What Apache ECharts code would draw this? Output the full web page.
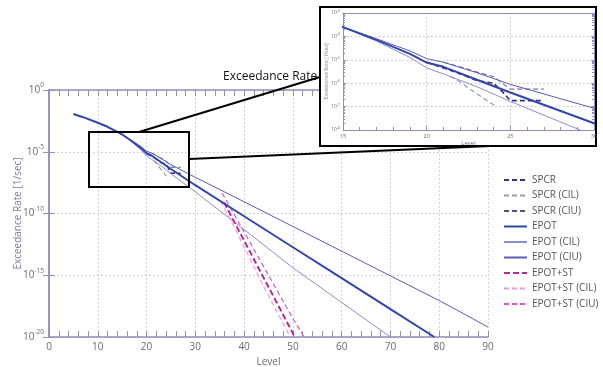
<!DOCTYPE html>
<html>
<head>
<meta charset="utf-8">
<script src="https://cdn.jsdelivr.net/npm/echarts@6/dist/echarts.min.js"></script>
<style>
  html, body { margin: 0; padding: 0; background: #fff; }
  #main { width: 603px; height: 367px; }
</style>
</head>
<body>
<div id="main"></div>
<script>
// values: [level, exceedance rate]
const spcr = [[20, 7.6e-6], [21, 4.5e-6], [22, 2.5e-6], [23, 1.3e-6], [24, 1.0e-6], [24.5, 4.5e-7], [25, 1.8e-7], [27, 1.8e-7]];
const spcrCil = [[21.4, 2.0e-6], [22, 1.12e-6], [23, 3.5e-7], [24.1, 1.07e-7]];
const spcrCiu = [[21, 7.9e-6], [22, 5.0e-6], [23, 3.0e-6], [24, 1.9e-6], [25, 5.6e-7], [27, 5.6e-7]];
const epot = [[5, 1.15e-2], [7, 6.3e-3], [10, 2.24e-3], [12, 1.05e-3], [15, 2.5e-4], [17, 7.1e-5], [19, 1.78e-5],
  [20, 7.6e-6], [21, 5.0e-6], [23, 1.4e-6], [25, 4.0e-7], [30, 1.95e-8], [40, 6.0e-11], [50, 1.86e-13],
  [60, 5.75e-16], [70, 1.78e-18], [79, 1.0e-20]];
const epotCil = [[15, 2.5e-4], [17, 6.3e-5], [19, 1.26e-5], [20, 4.5e-6], [21, 2.5e-6], [23, 7.1e-7], [25, 1.66e-7],
  [29, 1.12e-8], [30, 5.6e-9], [40, 5.0e-12], [50, 4.0e-15], [60, 6.3e-18], [70, 1.0e-20]];
const epotCiu = [[15, 2.5e-4], [17, 7.9e-5], [19, 2.4e-5], [20, 1.12e-5], [21, 7.9e-6], [23, 2.8e-6], [25, 8.9e-7],
  [30, 8.5e-8], [40, 8.9e-10], [50, 8.9e-12], [60, 8.9e-14], [70, 8.9e-16], [80, 8.9e-18], [84, 1.26e-18], [90, 6.3e-20]];
const epotSt = [[35.9, 7.9e-10], [38, 2.0e-11], [40, 6.3e-13], [42, 2.0e-14], [44, 6.3e-16], [46, 2.0e-17], [48, 6.3e-19], [50.4, 1.0e-20]];
const epotStCil = [[35.2, 1.0e-9], [38, 7.9e-12], [40, 2.0e-13], [42, 5.0e-15], [44, 1.26e-16], [46, 4.0e-18], [48, 1.26e-19], [49.4, 1.0e-20]];
const epotStCiu = [[35.5, 4.5e-9], [38, 7.9e-11], [40, 3.2e-12], [42, 1.26e-13], [44, 5.0e-15], [46, 2.0e-16], [48, 7.9e-18], [50, 3.2e-19], [52.3, 1.0e-20]];

// zoomed window drawn on the main plot, and the inset ranges
const zoomBoxX = [8.2, 28.7];
const zoomBoxY = [4.0e-4, 1.4e-8];
const insetX = [15, 30];
const insetY = [1e-8, 1e-3];

const axisColor = "#9090b8";
const labelColor = "#6a6a6a";
const font = "Open Sans";

function expLabel(v) {
  const e = Math.round(Math.log10(v));
  return "{b|10}{s|" + e + "}";
}

const lines = [
  { name: "SPCR", data: spcr, color: "#33337a", width: 1.6, type: [5, 3] },
  { name: "SPCR (CIL)", data: spcrCil, color: "#9a9ab4", width: 1.2, type: [5, 3] },
  { name: "SPCR (CIU)", data: spcrCiu, color: "#4d4d90", width: 1, type: [5, 3] },
  { name: "EPOT", data: epot, color: "#3344aa", width: 2, type: "solid", z: 4 },
  { name: "EPOT (CIL)", data: epotCil, color: "#8c8cd0", width: 1, type: "solid" },
  { name: "EPOT (CIU)", data: epotCiu, color: "#5a5ab8", width: 1, type: "solid" },
  { name: "EPOT+ST", data: epotSt, color: "#b52a95", width: 2, type: [6, 3] },
  { name: "EPOT+ST (CIL)", data: epotStCil, color: "#e8a0da", width: 1.2, type: [5, 3] },
  { name: "EPOT+ST (CIU)", data: epotStCiu, color: "#d45ac4", width: 1.2, type: [5, 3] },
];

function makeSeries(l, xi, yi, z) {
  return {
    name: l.name, type: "line", data: l.data, xAxisIndex: xi, yAxisIndex: yi,
    symbol: "none", z: (l.z || 2) + z, animation: false,
    lineStyle: { color: l.color, width: l.width, type: l.type },
    itemStyle: { color: l.color },
  };
}

const series = [];
lines.forEach(l => series.push(makeSeries(l, 0, 0, 0)));
lines.forEach(l => series.push(makeSeries(l, 2, 2, 70)));

const dotted = { show: true, lineStyle: { color: "#c4c4c4", type: [1.5, 2.5], width: 1 } };

const chart = echarts.init(document.getElementById("main"));
chart.setOption({
  animation: false,
  title: {
    text: "Exceedance Rate", left: 218, top: 66,
    textStyle: { fontFamily: font, fontSize: 12, fontWeight: "normal", color: "#111" },
  },
  legend: {
    orient: "vertical", left: 503, top: 173, padding: 0, itemWidth: 23, itemHeight: 10, itemGap: 1.5,
    data: lines.map(l => l.name),
    itemStyle: { opacity: 0 },
    textStyle: { fontFamily: font, fontSize: 10, color: "#555", lineHeight: 14 },
  },
  grid: [
    { left: 49, right: 115, top: 90, bottom: 30, outerBoundsMode: "none" },
    { left: 343, right: 9, top: 13, bottom: 237, outerBoundsMode: "none" },
  ],
  xAxis: [
    {
      gridIndex: 0, type: "value", min: 0, max: 90, interval: 10, position: "bottom",
      name: "Level", nameLocation: "middle", nameGap: 15,
      nameTextStyle: { fontFamily: font, fontSize: 10, color: labelColor },
      axisLine: { onZero: false, lineStyle: { color: axisColor, width: 1.5 } },
      axisTick: { inside: true, length: 6, lineStyle: { color: axisColor } },
      minorTick: { show: true, splitNumber: 5, length: 6, lineStyle: { color: axisColor } },
      axisLabel: { fontFamily: font, fontSize: 10, color: labelColor, margin: 5 },
      splitLine: dotted,
    },
    {
      gridIndex: 0, type: "value", min: 0, max: 90, interval: 10, position: "top",
      axisLine: { onZero: false, lineStyle: { color: axisColor, width: 1.5 } },
      axisTick: { inside: true, length: 6, lineStyle: { color: axisColor } },
      minorTick: { show: true, splitNumber: 5, length: 6, lineStyle: { color: axisColor } },
      axisLabel: { show: false }, splitLine: { show: false },
    },
    {
      gridIndex: 1, type: "value", min: insetX[0], max: insetX[1], interval: 5, position: "bottom", z: 60,
      name: "Level", nameLocation: "middle", nameGap: 9,
      nameTextStyle: { fontFamily: font, fontSize: 6, color: labelColor },
      axisLine: { onZero: false, lineStyle: { color: axisColor, width: 1 } },
      axisTick: { inside: true, length: 4, lineStyle: { color: axisColor } },
      minorTick: { show: true, splitNumber: 5, length: 3, lineStyle: { color: axisColor } },
      axisLabel: { fontFamily: font, fontSize: 5.5, color: labelColor, margin: 3 },
      splitLine: dotted,
    },
    {
      gridIndex: 1, type: "value", min: insetX[0], max: insetX[1], interval: 5, position: "top", z: 60,
      axisLine: { onZero: false, lineStyle: { color: axisColor, width: 1 } },
      axisTick: { show: false }, axisLabel: { show: false }, splitLine: { show: false },
    },
  ],
  yAxis: [
    {
      gridIndex: 0, type: "log", logBase: 10, min: 1e-20, max: 1, interval: 5, position: "left",
      name: "Exceedance Rate [1/sec]", nameLocation: "middle", nameGap: 26, nameMoveOverlap: false,
      nameTextStyle: { fontFamily: font, fontSize: 10, color: "#7a7aa8" },
      axisLine: { show: true, lineStyle: { color: axisColor, width: 1.5 } },
      axisTick: { inside: true, length: 6, lineStyle: { color: axisColor } },
      axisLabel: {
        formatter: expLabel, margin: 5,
        rich: {
          b: { fontFamily: font, fontSize: 10, color: labelColor },
          s: { fontFamily: font, fontSize: 6.5, color: labelColor, padding: [0, 0, 9, 0] },
        },
      },
      splitLine: dotted,
    },
    {
      gridIndex: 0, type: "log", logBase: 10, min: 1e-20, max: 1, interval: 5, position: "right",
      axisLine: { show: true, lineStyle: { color: axisColor, width: 1.5 } },
      axisTick: { inside: true, length: 6, lineStyle: { color: axisColor } },
      axisLabel: { show: false }, splitLine: { show: false },
    },
    {
      gridIndex: 1, type: "log", logBase: 10, min: insetY[0], max: insetY[1], interval: 1, position: "left", z: 60,
      name: "Exceedance Rate [1/sec]", nameLocation: "middle", nameGap: 14, nameMoveOverlap: false,
      nameTextStyle: { fontFamily: font, fontSize: 5, color: "#7a7aa8" },
      axisLine: { show: true, lineStyle: { color: axisColor, width: 1 } },
      axisTick: { inside: true, length: 3, lineStyle: { color: axisColor } },
      minorTick: { show: true, splitNumber: 9, length: 2, lineStyle: { color: axisColor } },
      axisLabel: {
        formatter: expLabel, margin: 3,
        rich: {
          b: { fontFamily: font, fontSize: 5, color: labelColor },
          s: { fontFamily: font, fontSize: 3.5, color: labelColor, padding: [0, 0, 4, 0] },
        },
      },
      splitLine: dotted,
    },
    {
      gridIndex: 1, type: "log", logBase: 10, min: insetY[0], max: insetY[1], interval: 1, position: "right", z: 60,
      axisLine: { show: true, lineStyle: { color: axisColor, width: 1 } },
      axisTick: { inside: true, length: 3, lineStyle: { color: axisColor } },
      minorTick: { show: true, splitNumber: 9, length: 2, lineStyle: { color: axisColor } },
      axisLabel: { show: false }, splitLine: { show: false },
    },
  ],
  series: series,
});

// zoom window, inset frame and the two connector lines
const tl = chart.convertToPixel({ seriesIndex: 0 }, [zoomBoxX[0], zoomBoxY[0]]);
const br = chart.convertToPixel({ seriesIndex: 0 }, [zoomBoxX[1], zoomBoxY[1]]);
const topPt = chart.convertToPixel({ seriesIndex: 0 }, [18.45, zoomBoxY[0]]);
const sidePt = chart.convertToPixel({ seriesIndex: 0 }, [zoomBoxX[1], 2.6e-6]);
const frame = { x: 320, y: 7, width: 276, height: 139 };

chart.setOption({
  graphic: [
    {
      type: "rect", z: 50, silent: true,
      shape: frame,
      style: { fill: "#fff", stroke: "#000", lineWidth: 2 },
    },
    {
      type: "rect", z: 50, silent: true,
      shape: { x: tl[0], y: tl[1], width: br[0] - tl[0], height: br[1] - tl[1] },
      style: { fill: "none", stroke: "#000", lineWidth: 2 },
    },
    {
      type: "line", z: 51, silent: true,
      shape: { x1: topPt[0], y1: topPt[1], x2: frame.x, y2: 77 },
      style: { stroke: "#000", lineWidth: 2 },
    },
    {
      type: "line", z: 51, silent: true,
      shape: { x1: sidePt[0], y1: sidePt[1], x2: 490, y2: frame.y + frame.height },
      style: { stroke: "#000", lineWidth: 2 },
    },
  ],
});

window.onresize = chart.resize;
</script>
</body>
</html>
